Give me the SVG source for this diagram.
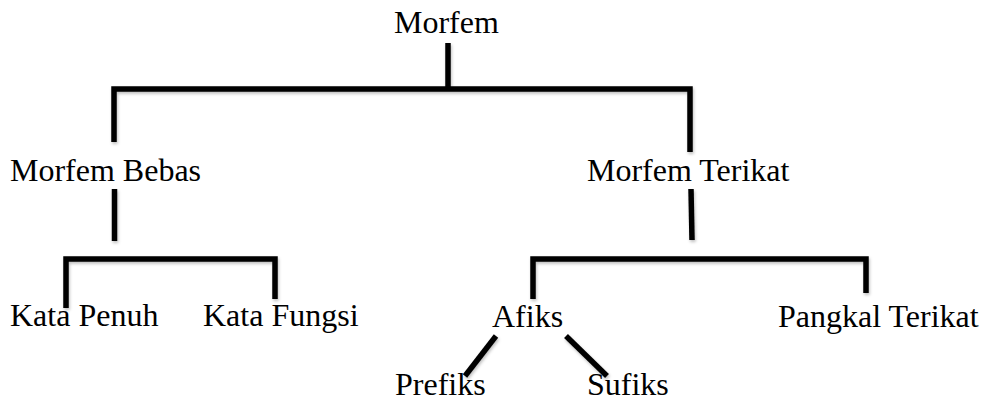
<svg xmlns="http://www.w3.org/2000/svg" width="986" height="403" viewBox="0 0 986 403">
  <style>
    .t { font-family: "Liberation Serif", "Times New Roman", serif; font-size: 32px; fill: #000; }
    .c { fill: none; stroke: #000; stroke-width: 5.5; stroke-linejoin: miter; stroke-linecap: butt; filter: url(#sh); }
  </style>
  <defs>
    <filter id="sh" filterUnits="userSpaceOnUse" x="0" y="0" width="986" height="403">
      <feDropShadow dx="1" dy="2" stdDeviation="1.5" flood-color="#000" flood-opacity="0.25"/>
    </filter>
  </defs>
  <rect width="986" height="403" fill="#fff"/>
  <g id="connectors">
    <path class="c" d="M448,43 V87"/>
    <path class="c" d="M114,142 V89 H690 V152"/>
    <path class="c" d="M114.5,189 V241"/>
    <path class="c" d="M66,308 V259 H275 V299"/>
    <path class="c" d="M691,189 L692,240"/>
    <path class="c" d="M533,299 V259 H866 V293"/>
    <path class="c" d="M496,336 L465,376"/>
    <path class="c" d="M566,336 L607,376"/>
  </g>
  <g id="morfem"><text class="t" x="394" y="33">Morfem</text></g>
  <g id="morfem-bebas"><text class="t" x="10" y="181">Morfem Bebas</text></g>
  <g id="morfem-terikat"><text class="t" x="587" y="181">Morfem Terikat</text></g>
  <g id="kata-penuh"><text class="t" x="10" y="326">Kata Penuh</text></g>
  <g id="kata-fungsi"><text class="t" x="203" y="326">Kata Fungsi</text></g>
  <g id="afiks"><text class="t" x="492" y="327">Afiks</text></g>
  <g id="pangkal-terikat"><text class="t" x="778" y="327">Pangkal Terikat</text></g>
  <g id="prefiks"><text class="t" x="395" y="395">Prefiks</text></g>
  <g id="sufiks"><text class="t" x="587" y="395">Sufiks</text></g>
</svg>
